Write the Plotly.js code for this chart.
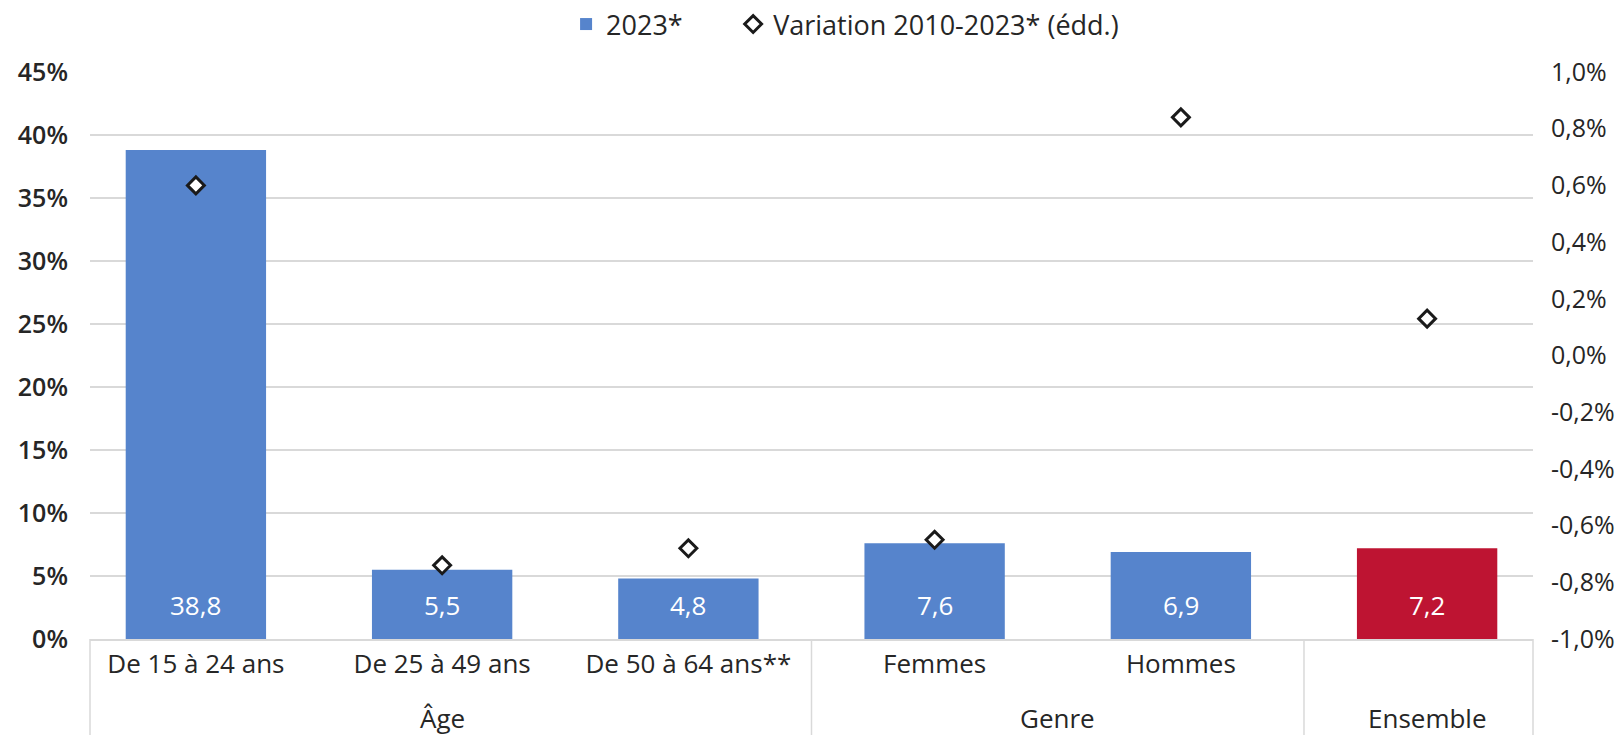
<!DOCTYPE html>
<html><head><meta charset="utf-8">
<script src="https://cdn.plot.ly/plotly-3.0.1.min.js"></script>
<style>html,body{margin:0;padding:0;background:#fff}#chart{width:1622px;height:735px}</style>
</head><body><div id="chart"></div>
<script>
// ---- data ----
const groups = ['Âge', 'Âge', 'Âge', 'Genre', 'Genre', 'Ensemble'];
const categories = ['De 15 à 24 ans', 'De 25 à 49 ans', 'De 50 à 64 ans**', 'Femmes', 'Hommes', ' '];
const rate2023 = [38.8, 5.5, 4.8, 7.6, 6.9, 7.2];
const variation = [0.60, -0.74, -0.68, -0.65, 0.84, 0.13];
const leftTickVals = [0, 5, 10, 15, 20, 25, 30, 35, 40, 45];
const leftTickText = ['0%', '5%', '10%', '15%', '20%', '25%', '30%', '35%', '40%', '45%'];
const rightTickVals = [-1.0, -0.8, -0.6, -0.4, -0.2, 0.0, 0.2, 0.4, 0.6, 0.8, 1.0];
const rightTickText = ['-1,0%', '-0,8%', '-0,6%', '-0,4%', '-0,2%', '0,0%', '0,2%', '0,4%', '0,6%', '0,8%', '1,0%'];
const seriesNames = ['2023*', 'Variation 2010-2023* (édd.)'];

// ---- style ----
const BLUE = '#5684cc', RED = '#be1432', GRID = '#d9d9d9', TXT = '#262626';
const FONT = 'Open Sans, Noto Sans, sans-serif';
const xRange = [-0.43, 5.43];
const M = {l: 90, r: 89, t: 72, b: 96};
const plotH = 735 - M.t - M.b;
const fmt = v => v.toFixed(1).replace('.', ',');
const barColors = groups.map(g => g === 'Ensemble' ? RED : BLUE);

const bars = {
  type: 'bar', name: seriesNames[0], legend: 'legend',
  x: categories, y: rate2023,
  marker: {color: barColors, line: {width: 0}},
  width: 0.57, hoverinfo: 'skip'
};
const diamonds = {
  type: 'scatter', mode: 'markers', name: seriesNames[1], legend: 'legend2',
  x: categories, y: variation, yaxis: 'y2',
  marker: {symbol: 'diamond', size: 13, color: '#ffffff', line: {color: '#1a1a1a', width: 3}},
  hoverinfo: 'skip'
};

// value labels inside the bars, near their base
const valueLabels = rate2023.map((v, i) => ({
  x: categories[i], y: 0, xref: 'x', yref: 'y', text: fmt(v), showarrow: false,
  yshift: 34, font: {family: FONT, size: 26, color: '#ffffff'}
}));

// group labels centred under their categories
const groupNames = [...new Set(groups)];
const groupLabels = groupNames.map(g => {
  const idx = groups.map((gg, i) => gg === g ? i : -1).filter(i => i >= 0);
  const c = idx.reduce((a, b) => a + b, 0) / idx.length;
  return {x: c, y: -79 / plotH, xref: 'x', yref: 'paper', yanchor: 'middle', text: g,
          showarrow: false, font: {family: FONT, size: 26, color: TXT}};
});

// group dividers (at the outer plot edges and between groups)
const divPos = [];
groups.forEach((g, i) => { if (i > 0 && g !== groups[i - 1]) divPos.push(i - 0.5); });
const toPaper = v => (v - xRange[0]) / (xRange[1] - xRange[0]);
const dividerX = [0].concat(divPos.map(toPaper)).concat([1]);
const dividers = dividerX.map(px => ({
  type: 'line', xref: 'paper', yref: 'paper', x0: px, x1: px, y0: 0, y1: -M.b / plotH,
  line: {color: GRID, width: 1.5}
}));

const legendBase = {orientation: 'h', xref: 'container', xanchor: 'left',
                    yref: 'container', y: 1, yanchor: 'top',
                    font: {family: FONT, size: 27, color: TXT}};

const layout = {
  width: 1622, height: 735,
  margin: M,
  paper_bgcolor: '#ffffff', plot_bgcolor: '#ffffff',
  font: {family: FONT, size: 26, color: TXT},
  showlegend: true,
  legend: Object.assign({}, legendBase, {x: 0.349}),
  legend2: Object.assign({}, legendBase, {x: 0.452}),
  xaxis: {type: 'category', range: xRange,
          showline: true, linecolor: GRID, linewidth: 1.5, showgrid: false, zeroline: false,
          ticks: 'outside', ticklen: 1, tickcolor: 'rgba(0,0,0,0)',
          tickfont: {family: FONT, size: 26, color: TXT}},
  yaxis: {range: [0, 45], tickvals: leftTickVals, ticktext: leftTickText,
          showgrid: true, gridcolor: GRID, gridwidth: 1.3, zeroline: false, showline: false,
          ticks: 'outside', ticklen: 16, tickcolor: 'rgba(0,0,0,0)',
          tickfont: {family: FONT, size: 25, weight: 600, color: TXT}},
  yaxis2: {range: [-1, 1], overlaying: 'y', side: 'right', tickvals: rightTickVals, ticktext: rightTickText,
           showgrid: false, zeroline: false, showline: false,
           ticks: 'outside', ticklen: 12, tickcolor: 'rgba(0,0,0,0)',
           tickfont: {family: FONT, size: 25, weight: 500, color: TXT}},
  annotations: valueLabels.concat(groupLabels),
  shapes: dividers
};

Plotly.newPlot('chart', [bars, diamonds], layout, {staticPlot: true, displayModeBar: false});
</script>
</body></html>
